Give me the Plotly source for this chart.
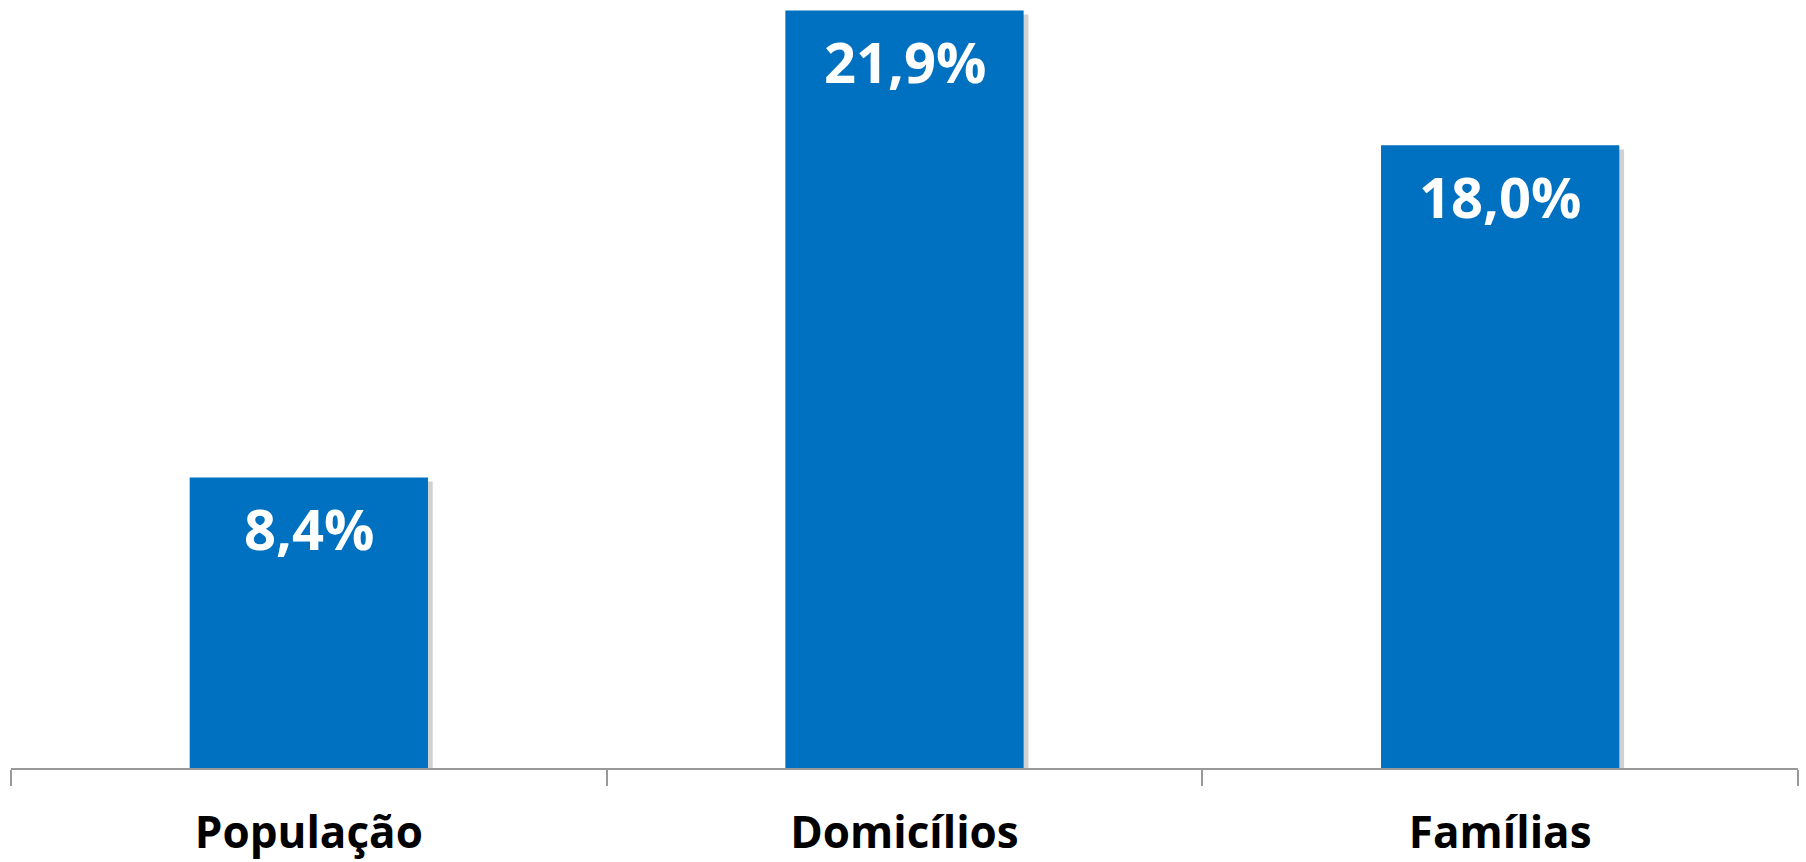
import plotly.graph_objects as go

categories = ["População", "Domicílios", "Famílias"]
values = [8.4, 21.9, 18.0]
labels = ["8,4%", "21,9%", "18,0%"]

BAR_COLOR = "#0070C0"
FONT = "Open Sans"

fig = go.Figure()

# soft shadow behind bars
fig.add_trace(go.Bar(
    x=categories, y=values,
    marker=dict(color="rgba(0,0,0,0.18)", line=dict(width=0)),
    width=0.4, offset=-0.2 + 0.008, base=-0.12,
    hoverinfo="skip", showlegend=False,
))
fig.add_trace(go.Bar(
    x=categories, y=values,
    marker=dict(color=BAR_COLOR, line=dict(width=0)),
    width=0.4, offset=-0.2,
    showlegend=False,
))

for c, v, t in zip(categories, values, labels):
    fig.add_annotation(
        x=c, y=v, text=f"<b>{t}</b>", showarrow=False,
        yanchor="top", yshift=-11,
        font=dict(family=FONT, size=56, color="white"),
    )

fig.update_layout(
    width=1806, height=862,
    margin=dict(l=11, r=8, t=7, b=94, autoexpand=False),
    plot_bgcolor="white", paper_bgcolor="white",
    barmode="overlay",
    xaxis=dict(
        type="category", tickson="boundaries", automargin=False,
        ticks="outside", ticklen=16, tickwidth=1.5, tickcolor="#999999",
        showline=True, linecolor="#999999", linewidth=1.5,
        showgrid=False, ticklabelstandoff=25,
        tickfont=dict(family=FONT, size=44, color="black", weight="bold"),
    ),
    yaxis=dict(range=[0, 22], visible=False, showgrid=False, zeroline=False,
               automargin=False),
)

fig.write_html("out.html")
